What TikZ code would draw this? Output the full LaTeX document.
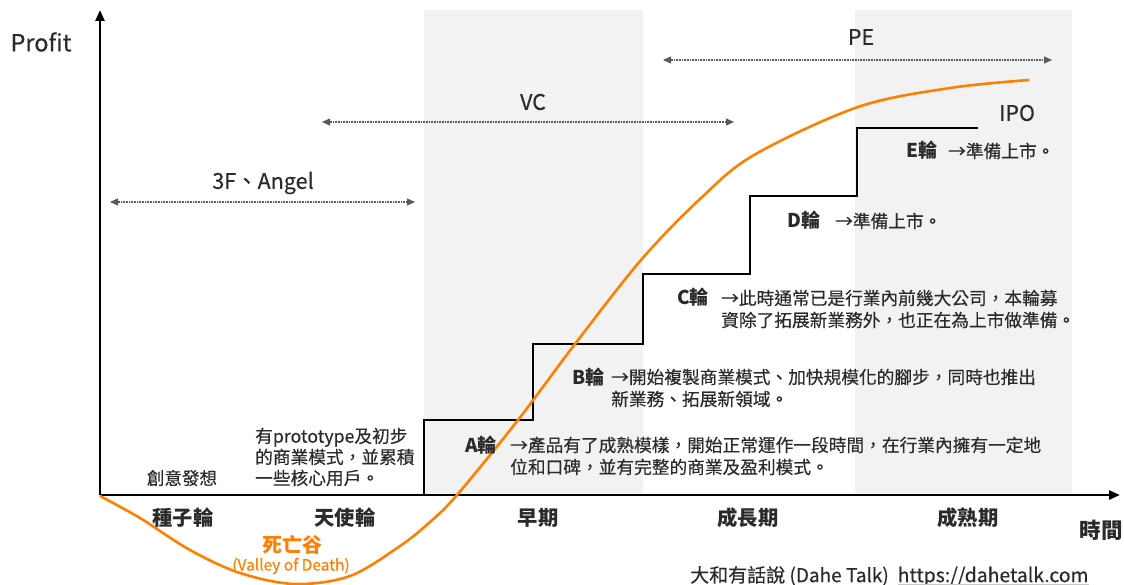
\documentclass[tikz,border=0pt]{standalone}
\usepackage{fontspec}
\setmainfont{Noto Sans CJK TC}[Script=CJK,Language=Chinese Traditional]
\newfontfamily\medfont{Noto Sans CJK TC}[Script=CJK,Language=Chinese Traditional,FakeBold=0.35]
\usetikzlibrary{arrows.meta}
\definecolor{txt}{HTML}{2B2B2B}
\definecolor{band}{HTML}{F2F2F2}
\definecolor{orng}{HTML}{FF8000}
\definecolor{dotc}{HTML}{595959}
\definecolor{ulc}{HTML}{C8C8C8}
\begin{document}
\begin{tikzpicture}[x=1pt,y=-1pt,
  lbl/.style={inner sep=0pt,text=txt},
  desc/.style={lbl,anchor=west,align=left,font=\medfont\fontsize{17.7}{22}\selectfont},
  round/.style={lbl,anchor=west,font=\fontsize{19}{22}\selectfont\bfseries},
  stage/.style={lbl,font=\fontsize{20.3}{22}\selectfont\bfseries},
  inv/.style={lbl,font=\medfont\fontsize{21.5}{24}\selectfont},
  span/.style={draw=dotc,line width=1.1pt,dash pattern=on 1pt off 0.6pt,
    {Triangle[length=8pt,width=7pt]}-{Triangle[length=8pt,width=7pt]}},
  axis/.style={draw=black,line width=2.4pt,-{Triangle[length=11pt,width=9pt]}}]
\useasboundingbox (0,0) rectangle (1124,585);
\fill[white] (0,0) rectangle (1124,585);
% bands
\fill[band] (424,10) rectangle (643,495);
\fill[band] (855,10) rectangle (1072,495);
% axes
\coordinate (O) at (100,495);
\coordinate (Ytop) at (100,10);
\coordinate (Xend) at (1120,495);
\draw[axis] (O) -- (Ytop);
\draw[axis] (O) -- (Xend);
% staircase
\draw[line width=2.4pt,line join=miter] (424,495) -- (424,420) -- (533,420) -- (533,344) -- (643,344) -- (643,274) -- (750,274) -- (750,196) -- (857,196) -- (857,128) -- (978,128);
% curve
\draw[orng,line width=2.6pt] plot[smooth,tension=0.55] coordinates {(100,496) (140,518) (190,550) (240,573) (295,584) (350,576) (400,546) (430,522) (457,495) (518,420) (575,344) (641,260) (700,199) (754,155) (858,107) (950,88) (1029,80)};
% spans
\coordinate (f1) at (110,202); \coordinate (f2) at (415,202);
\coordinate (v1) at (322,122); \coordinate (v2) at (734,122);
\coordinate (p1) at (663,60); \coordinate (p2) at (1052,60);
\draw[span] (f1) -- (f2);
\draw[span] (v1) -- (v2);
\draw[span] (p1) -- (p2);
\node[inv] (tF) at (263,183) {3F、Angel};
\node[inv] (tV) at (533,102) {VC};
\node[inv] (tP) at (861,37) {PE};
\node[inv] (tI) at (1017,113) {IPO};
\node[lbl,font=\medfont\fontsize{23.5}{24}\selectfont] (prof) at (41,42) {Profit};
\node[lbl,font=\fontsize{21.5}{22}\selectfont\bfseries] (time) at (1101,530) {時間};
% rounds
\node[round] (E) at (906,150) {E輪};
\node[desc] (Ed) at (948,151) {→準備上市。};
\node[round] (D) at (787,220) {D輪};
\node[desc] (Dd) at (835,221) {→準備上市。};
\node[round] (C) at (677,297) {C輪};
\node[desc] (Cd) at (721,309) {→此時通常已是行業內前幾大公司，本輪募\\資除了拓展新業務外，也正在為上市做準備。};
\node[round] (B) at (572,377) {B輪};
\node[desc] (Bd) at (611,388) {→開始複製商業模式、加快規模化的腳步，同時也推出\\新業務、拓展新領域。};
\node[round] (A) at (465,445) {A輪};
\node[desc] (Ad) at (510,456) {→產品有了成熟模樣，開始正常運作一段時間，在行業內擁有一定地\\位和口碑，並有完整的商業及盈利模式。};
\node[desc,font=\medfont\fontsize{17.7}{21}\selectfont] (proto) at (255,457) {有prototype及初步\\的商業模式，並累積\\一些核心用戶。};
\node[lbl,font=\medfont\fontsize{17.5}{22}\selectfont] (idea) at (182,478) {創意發想};
% stages
\node[stage] (s1) at (183,518) {種子輪};
\node[stage] (s2) at (345,518) {天使輪};
\node[stage] (s3) at (538,518) {早期};
\node[stage] (s4) at (748,518) {成長期};
\node[stage] (s5) at (968,518) {成熟期};
% valley
\node[lbl,text=orng,font=\fontsize{20}{22}\selectfont\bfseries] (vd) at (292,545) {死亡谷};
\node[lbl,text=orng,font=\medfont\fontsize{15.5}{17}\selectfont] (vde) at (291,566) {(Valley of Death)};
% footer
\node[lbl,anchor=west,font=\medfont\fontsize{19}{22}\selectfont] (foot) at (690,576) {大和有話說 (Dahe Talk)\ \ \ };
\node[lbl,anchor=base west,font=\medfont\fontsize{19.4}{22}\selectfont] (url) at (foot.base east) {https://dahetalk.com};
\draw[ulc,line width=0.8pt] ([yshift=-2pt]url.base west) -- ([yshift=-2pt]url.base east);
\end{tikzpicture}
\end{document}
